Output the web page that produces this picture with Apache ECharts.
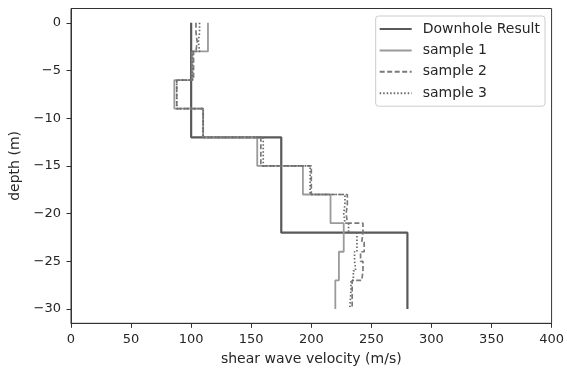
<!DOCTYPE html>
<html>
<head>
<meta charset="utf-8">
<script src="https://cdn.jsdelivr.net/npm/echarts@6/dist/echarts.min.js"></script>
<style>html,body{margin:0;padding:0;background:#fff}#c{width:567px;height:372px}</style>
</head>
<body>
<div id="c"></div>
<script>
// Layer boundaries (depth tops/bottoms, m) and velocities (m/s)
var downholeTops = [0, -12, -22];
var downholeBottoms = [-12, -22, -30];
var downholeVs = [100, 175, 280];

var s1Tops = [0, -3, -6, -9, -12, -15, -18, -21, -24, -27];
var s1Bottoms = [-3, -6, -9, -12, -15, -18, -21, -24, -27, -30];
var s1Vs = [114, 101, 86, 110, 155, 193, 216, 227, 223, 220];

var s2Tops = [0, -1, -2, -3, -6, -9, -12, -15, -18, -19, -20, -21, -22, -23, -24, -25, -26, -27];
var s2Bottoms = [-1, -2, -3, -6, -9, -12, -15, -18, -19, -20, -21, -22, -23, -24, -25, -26, -27, -30];
var s2Vs = [104, 105, 104, 102, 88, 110, 158, 200, 230, 229, 230, 243, 242, 244, 241, 243, 242, 234];

var s3Tops = [0, -1, -2, -3, -6, -9, -12, -15, -18, -19, -20, -21, -22, -24, -25, -26, -27, -28];
var s3Bottoms = [-1, -2, -3, -6, -9, -12, -15, -18, -19, -20, -21, -22, -24, -25, -26, -27, -28, -30];
var s3Vs = [107, 106, 107, 101, 88, 110, 160, 199, 228, 227, 228, 231, 238, 236, 237, 235, 233, 232];

var seriesNames = ['Downhole Result', 'sample 1', 'sample 2', 'sample 3'];
var yTicks = [0, -5, -10, -15, -20, -25, -30];

function steps(tops, bottoms, vs) {
  var pts = [];
  for (var i = 0; i < vs.length; i++) {
    pts.push([vs[i], tops[i]]);
    pts.push([vs[i], bottoms[i]]);
  }
  return pts;
}
function fmt(v) { return String(v).replace('-', '\u2212'); }

var chart = echarts.init(document.getElementById('c'), null, {renderer: 'canvas'});
var font = 'DejaVu Sans';
var axisColor = '#333';
var textColor = '#262626';
chart.setOption({
  animation: false,
  textStyle: {fontFamily: font},
  grid: {left: 71, right: 14, top: 8.5, bottom: 48.7, show: true, borderColor: axisColor, borderWidth: 1, containLabel: false},
  legend: {
    orient: 'vertical', right: 22, top: 16,
    data: seriesNames,
    itemWidth: 32, itemHeight: 14, itemGap: 7.4,
    padding: [6, 5, 6, 3],
    borderColor: '#cccccc', borderWidth: 1, borderRadius: 3,
    backgroundColor: 'rgba(255,255,255,0.8)',
    itemStyle: {opacity: 0},
    textStyle: {fontFamily: font, fontSize: 14, color: textColor, padding: [0, 0, 0, 6]}
  },
  xAxis: {
    type: 'value', min: 0, max: 400, interval: 50,
    name: 'shear wave velocity (m/s)', nameLocation: 'middle', nameGap: 29,
    nameTextStyle: {fontFamily: font, fontSize: 14, color: textColor},
    axisLine: {show: true, onZero: false, lineStyle: {color: axisColor}},
    axisTick: {show: true, length: 4.5, lineStyle: {color: axisColor}},
    axisLabel: {fontFamily: font, fontSize: 13, color: textColor, margin: 10},
    splitLine: {show: false}
  },
  yAxis: {
    type: 'value', min: -31.5, max: 1.5,
    name: 'depth (m)', nameLocation: 'middle', nameGap: 48,
    nameTextStyle: {fontFamily: font, fontSize: 14, color: textColor},
    axisLine: {show: true, onZero: false, lineStyle: {color: axisColor}},
    axisTick: {show: true, length: 4.5, customValues: yTicks, lineStyle: {color: axisColor}},
    axisLabel: {fontFamily: font, fontSize: 13, color: textColor, margin: 10, customValues: yTicks, formatter: fmt},
    splitLine: {show: false}
  },
  series: [
    {name: seriesNames[0], type: 'line', data: steps(downholeTops, downholeBottoms, downholeVs), symbol: 'none',
     lineStyle: {color: '#595959', width: 2.2}, itemStyle: {color: '#595959'}},
    {name: seriesNames[1], type: 'line', data: steps(s1Tops, s1Bottoms, s1Vs), symbol: 'none',
     lineStyle: {color: '#9a9a9a', width: 1.8}, itemStyle: {color: '#9a9a9a'}},
    {name: seriesNames[2], type: 'line', data: steps(s2Tops, s2Bottoms, s2Vs), symbol: 'none',
     lineStyle: {color: '#7a7a7a', width: 1.7, type: [5, 2.5]}, itemStyle: {color: '#7a7a7a'}},
    {name: seriesNames[3], type: 'line', data: steps(s3Tops, s3Bottoms, s3Vs), symbol: 'none',
     lineStyle: {color: '#6a6a6a', width: 1.7, type: [1.5, 2]}, itemStyle: {color: '#6a6a6a'}}
  ]
});
</script>
</body>
</html>
